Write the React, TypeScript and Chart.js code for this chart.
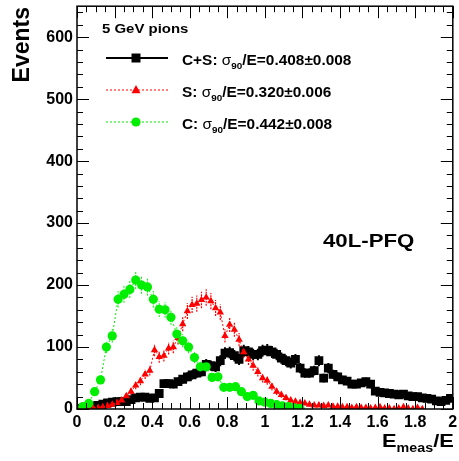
import { useEffect, useRef } from 'react';
import { Chart, registerables } from 'chart.js';

Chart.register(...registerables);

const FONT = '"Liberation Sans", Arial, Helvetica, sans-serif';

// Bin centres (E_meas/E) for the C+S and S histograms
const fineBins = [
  0.0125, 0.0375, 0.0625, 0.0875, 0.1125, 0.1375, 0.1625, 0.1875, 0.2125, 0.2375,
  0.2625, 0.2875, 0.3125, 0.3375, 0.3625, 0.3875, 0.4125, 0.4375, 0.4625, 0.4875,
  0.5125, 0.5375, 0.5625, 0.5875, 0.6125, 0.6375, 0.6625, 0.6875, 0.7125, 0.7375,
  0.7625, 0.7875, 0.8125, 0.8375, 0.8625, 0.8875, 0.9125, 0.9375, 0.9625, 0.9875,
  1.0125, 1.0375, 1.0625, 1.0875, 1.1125, 1.1375, 1.1625, 1.1875, 1.2125, 1.2375,
  1.2625, 1.2875, 1.3125, 1.3375, 1.3625, 1.3875, 1.4125, 1.4375, 1.4625, 1.4875,
  1.5125, 1.5375, 1.5625, 1.5875, 1.6125, 1.6375, 1.6625, 1.6875, 1.7125, 1.7375,
  1.7625, 1.7875, 1.8125, 1.8375, 1.8625, 1.8875, 1.9125, 1.9375, 1.9625, 1.9875,
];

// Bin centres for the C histogram
const coarseBins = [
  0.03125, 0.0625, 0.09375, 0.125, 0.15625, 0.1875, 0.21875, 0.25, 0.28125, 0.3125,
  0.34375, 0.375, 0.40625, 0.4375, 0.46875, 0.5, 0.53125, 0.5625, 0.59375, 0.625,
  0.65625, 0.6875, 0.71875, 0.75, 0.78125, 0.8125, 0.84375, 0.875, 0.90625, 0.9375,
  0.96875, 1.0, 1.03125, 1.0625, 1.09375, 1.125, 1.15625, 1.1875,
];

// C+S combined
const eventsCS = [
  1, 2, 4, 5, 6, 8, 10, 11, 12, 12,
  12, 15, 18, 19, 19, 17, 18, 25, 41, 41,
  40, 44, 48, 52, 55, 58, 60, 72, 70, 68,
  78, 90, 91, 86, 80, 94, 92, 88, 88, 94,
  95, 92, 88, 82, 78, 74, 80, 66, 58, 58,
  62, 78, 50, 66, 56, 52, 47, 45, 40, 40,
  42, 44, 40, 29, 27, 26, 25, 24, 23, 24,
  21, 20, 20, 18, 17, 16, 13, 12, 14, 17,
];

// S (scintillation) only
const eventsS = [
  0, 0, 1, 1, 2, 3, 5, 7, 10, 14,
  21, 28, 38, 45, 56, 62, 95, 84, 86, 98,
  100, 115, 137, 158, 168, 170, 176, 180, 174, 163,
  156, 118, 136, 128, 112, 92, 80, 70, 60, 50,
  46, 36, 28, 23, 18, 14, 12, 10, 9, 7,
  6, 6, 5, 6, 4, 4, 3, 3, 2, 3,
  2, 2, 1, 2, 3, 1, 1, 0, 1, 3,
  1, 0, 2, 0,
];

// C (Cerenkov) only
const eventsC = [
  4, 9, 28, 47, 100, 118, 177, 185, 193, 208,
  200, 197, 177, 161, 160, 148, 121, 110, 100, 83,
  68, 68, 51, 52, 35, 35, 36, 28, 20, 22,
  13, 11, 9, 7, 5, 4, 2, 1,
];

const legendNames = ['C+S', 'S', 'C'];
const legendSigma = ['0.408\u00B10.008', '0.320\u00B10.006', '0.442\u00B10.008'];
const beamLabel = '5 GeV pions';
const configLabel = '40L-PFQ';

const pts = (xs: number[], ys: number[]) => ys.map((y, i) => ({ x: xs[i], y }));

function seg(ctx: CanvasRenderingContext2D, text: string, x: number, y: number, size: number, weight: string, sx: number) {
  ctx.font = `${weight} ${size}px ${FONT}`;
  const w = ctx.measureText(text).width * sx;
  ctx.save();
  ctx.translate(x, y);
  ctx.scale(sx, 1);
  ctx.textAlign = 'left';
  ctx.textBaseline = 'alphabetic';
  ctx.fillText(text, 0, 0);
  ctx.restore();
  return x + w;
}

function marker(ctx: CanvasRenderingContext2D, style: string, x: number, y: number, color: string) {
  ctx.save();
  ctx.fillStyle = color;
  ctx.beginPath();
  if (style === 'rect') {
    ctx.rect(x - 4.5, y - 4.5, 9, 9);
  } else if (style === 'triangle') {
    ctx.moveTo(x, y - 5);
    ctx.lineTo(x + 4.5, y + 3.2);
    ctx.lineTo(x - 4.5, y + 3.2);
    ctx.closePath();
  } else {
    ctx.arc(x, y, 4.6, 0, Math.PI * 2);
  }
  ctx.fill();
  ctx.restore();
}

const errorBars = {
  id: 'errorBars',
  beforeDatasetsDraw(chart: any) {
    const ctx: CanvasRenderingContext2D = chart.ctx;
    const ys = chart.scales.y;
    const xs = chart.scales.x;
    const a = chart.chartArea;
    ctx.save();
    ctx.beginPath();
    ctx.rect(a.left, a.top, a.right - a.left, a.bottom - a.top);
    ctx.clip();
    chart.data.datasets.forEach((ds: any) => {
      ctx.strokeStyle = ds.borderColor;
      ctx.lineWidth = ds.errWidth;
      ctx.setLineDash(ds.errDash);
      ds.data.forEach((p: any) => {
        if (p.y <= 0) return;
        const e = Math.sqrt(p.y);
        const px = xs.getPixelForValue(p.x);
        ctx.beginPath();
        ctx.moveTo(px, ys.getPixelForValue(p.y - e));
        ctx.lineTo(px, ys.getPixelForValue(p.y + e));
        if (ds.halfBin) {
          const py = ys.getPixelForValue(p.y);
          ctx.moveTo(xs.getPixelForValue(p.x - ds.halfBin), py);
          ctx.lineTo(xs.getPixelForValue(p.x + ds.halfBin), py);
        }
        ctx.stroke();
      });
    });
    ctx.restore();
  },
};

const frameAndText = {
  id: 'frameAndText',
  afterDraw(chart: any) {
    const ctx: CanvasRenderingContext2D = chart.ctx;
    const xs = chart.scales.x;
    const ys = chart.scales.y;
    const a = chart.chartArea;
    ctx.save();
    ctx.strokeStyle = '#000';
    ctx.fillStyle = '#000';
    ctx.lineWidth = 1.5;
    ctx.setLineDash([]);
    ctx.strokeRect(a.left, a.top, a.right - a.left, a.bottom - a.top);

    ctx.lineWidth = 1;
    ctx.beginPath();
    for (let i = 0; i * 20 <= 650; i++) {
      const v = i * 20;
      const len = v % 100 === 0 ? 12 : 6;
      const py = Math.round(ys.getPixelForValue(v)) + 0.5;
      ctx.moveTo(a.left, py);
      ctx.lineTo(a.left + len, py);
      ctx.moveTo(a.right, py);
      ctx.lineTo(a.right - len, py);
    }
    for (let j = 0; j <= 40; j++) {
      const len = j % 4 === 0 ? 12 : 6;
      const px = Math.round(xs.getPixelForValue(j * 0.05)) + 0.5;
      ctx.moveTo(px, a.bottom);
      ctx.lineTo(px, a.bottom - len);
      ctx.moveTo(px, a.top);
      ctx.lineTo(px, a.top + len);
    }
    ctx.stroke();

    // axis titles
    ctx.save();
    ctx.translate(29, 7);
    ctx.rotate(-Math.PI / 2);
    ctx.font = `bold 23px ${FONT}`;
    ctx.textAlign = 'right';
    ctx.textBaseline = 'alphabetic';
    ctx.fillText('Events', 0, 0);
    ctx.restore();

    let tx = 382;
    tx = seg(ctx, 'E', tx, 447, 19, 'bold', 1.15);
    tx = seg(ctx, 'meas', tx, 452, 13, 'bold', 1.1);
    seg(ctx, '/E', tx, 447, 19, 'bold', 1.15);

    // legend
    seg(ctx, beamLabel, 102, 33, 13, 'bold', 1.15);
    const rows = [
      { y: 58, color: '#000', style: 'rect', dash: [] as number[], width: 2 },
      { y: 90, color: '#ff0000', style: 'triangle', dash: [2, 2], width: 1.2 },
      { y: 122, color: '#00ee00', style: 'circle', dash: [2, 2], width: 1.2 },
    ];
    rows.forEach((r, i) => {
      ctx.save();
      ctx.strokeStyle = r.color;
      ctx.lineWidth = r.width;
      ctx.setLineDash(r.dash);
      ctx.beginPath();
      ctx.moveTo(106, r.y);
      ctx.lineTo(168, r.y);
      ctx.stroke();
      ctx.restore();
      marker(ctx, r.style, 136, r.y, r.color);
      ctx.fillStyle = '#000';
      const by = r.y + 7;
      let x = 182;
      x = seg(ctx, legendNames[i] + ': ', x, by, 14, 'bold', 1.1);
      x = seg(ctx, '\u03C3', x, by, 14, 'normal', 1.1);
      x = seg(ctx, '90', x, by + 4, 9, 'bold', 1.1);
      seg(ctx, '/E=' + legendSigma[i], x, by, 14, 'bold', 1.1);
    });

    seg(ctx, configLabel, 323, 247, 19, 'bold', 1.17);
    ctx.restore();
  },
};

export default function App() {
  const ref = useRef<HTMLCanvasElement>(null);

  useEffect(() => {
    if (!ref.current) return;
    const chart = new Chart(ref.current, {
      type: 'scatter',
      data: {
        datasets: [
          {
            label: 'C+S',
            data: pts(fineBins, eventsCS),
            pointStyle: 'rect',
            pointRadius: 6.2,
            pointHoverRadius: 6.2,
            borderWidth: 0,
            backgroundColor: '#000',
            borderColor: '#000',
            showLine: false,
            order: 3,
            errWidth: 2,
            errDash: [],
            halfBin: 0.0125,
          } as any,
          {
            label: 'S',
            data: pts(fineBins, eventsS),
            pointStyle: 'triangle',
            pointRadius: 4.3,
            pointHoverRadius: 4.3,
            pointBorderWidth: 0,
            backgroundColor: '#ff0000',
            borderColor: '#ff0000',
            borderWidth: 1,
            borderDash: [2, 2],
            showLine: true,
            order: 2,
            errWidth: 1.2,
            errDash: [2, 1],
            halfBin: 0,
          } as any,
          {
            label: 'C',
            data: pts(coarseBins, eventsC),
            pointStyle: 'circle',
            pointRadius: 4.6,
            pointHoverRadius: 4.6,
            pointBorderWidth: 0,
            backgroundColor: '#00ee00',
            borderColor: '#00ee00',
            borderWidth: 1,
            borderDash: [2, 2],
            showLine: true,
            order: 1,
            errWidth: 1,
            errDash: [2, 1],
            halfBin: 0,
          } as any,
        ],
      },
      options: {
        animation: false,
        responsive: false,
        devicePixelRatio: 1,
        layout: { padding: { left: 0, top: 5, right: 3, bottom: 0 } },
        plugins: { legend: { display: false }, tooltip: { enabled: false } },
        scales: {
          x: {
            type: 'linear',
            min: 0,
            max: 2,
            grid: { display: false, drawTicks: false },
            border: { display: false },
            ticks: {
              stepSize: 0.2,
              padding: 4,
              color: '#000',
              font: { family: FONT, size: 16, weight: 'bold' },
              maxRotation: 0,
              autoSkip: false,
              callback: (v: any) => {
                const r = Math.round(Number(v) * 10) / 10;
                return Number.isInteger(r) ? String(r) : r.toFixed(1);
              },
            },
            afterFit: (s: any) => {
              s.height = 52;
              s.paddingLeft = 0;
              s.paddingRight = 0;
            },
          },
          y: {
            type: 'linear',
            min: 0,
            max: 650,
            grid: { display: false, drawTicks: false },
            border: { display: false },
            ticks: {
              stepSize: 100,
              padding: 4,
              color: '#000',
              font: { family: FONT, size: 16, weight: 'bold' },
              autoSkip: false,
              callback: (v: any) => (Number(v) % 100 === 0 && Number(v) <= 600 ? String(v) : ''),
            },
            afterFit: (s: any) => {
              s.width = 77;
              s.paddingTop = 0;
              s.paddingBottom = 0;
            },
          },
        },
      },
      plugins: [errorBars, frameAndText],
    });
    return () => chart.destroy();
  }, []);

  return (
    <div style={{ position: 'absolute', left: 0, top: 0, width: 459, height: 461, background: '#fff' }}>
      <canvas ref={ref} width={459} height={461} style={{ width: 459, height: 461, display: 'block' }} />
    </div>
  );
}
